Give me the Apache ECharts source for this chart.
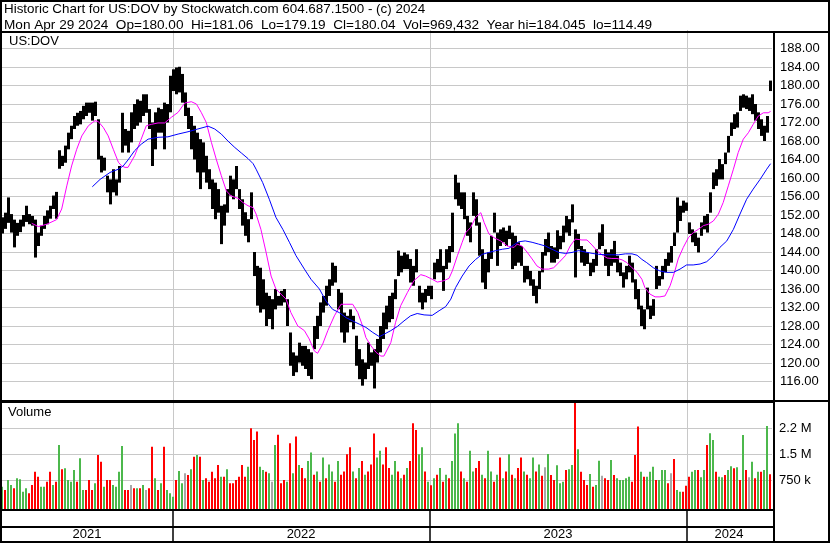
<!DOCTYPE html>
<html><head><meta charset="utf-8">
<script src="https://cdn.jsdelivr.net/npm/echarts@6/dist/echarts.min.js"></script>
<style>html,body{margin:0;padding:0;background:#fff}#c{width:830px;height:543px}</style>
</head><body><div id="c"></div>
<script>
const titleLine1 = 'Historic Chart for US:DOV by Stockwatch.com 604.687.1500 - (c) 2024';
const titleLine2 = 'Mon Apr 29 2024  Op=180.00  Hi=181.06  Lo=179.19  Cl=180.04  Vol=969,432  Year hi=184.045  lo=114.49';
const symbolLabel = 'US:DOV';
const volumeLabel = 'Volume';

// price bars (each bar = ~3 trading days), high / low
const highs = [151.5,152.5,155.8,152.2,151,150.3,151,152,154,152.2,151.8,151,148.2,149.7,151.8,153,154,156.2,157,166,164.8,167,169.8,171.3,173.4,174.1,174.5,175.6,176.3,176.3,176.3,176.5,172.7,164.8,164.4,160.5,159.7,161.9,159.7,162.6,174.1,170.6,170.2,
174.2,176,177,176.7,178.1,178.1,174.9,172,174.2,175.2,174.9,176.3,176,182.1,183.5,183.9,184.05,182.5,178.5,175.2,173.4,171.3,169.8,168.4,167.7,164.8,161.9,159.7,159,157.6,154,154.3,157.6,160.5,159.7,162.6,157.6,155.4,152.6,151.1,156.9,144,141,
140.6,138.1,135.2,134.5,133.8,136,134.5,135.6,136,133.8,126.6,122.3,121.6,124.4,123.7,123.7,123,122.3,128,130.2,133.1,134.5,136.7,138.1,141.7,141,136,135.2,130.9,130.2,131.6,130.2,125.9,123,120.8,120.1,124.4,122.3,123,125.2,128,130.9,
132.4,134.5,135.2,138.1,144.3,143.2,143.9,143.5,142.5,141,144.6,136.7,135.2,136,136.7,136.7,141.7,142.5,144.6,141,144.6,145.3,152.5,160.7,159,156.9,156.9,151.8,150.4,156.9,155.4,150.4,144.6,142.5,143.9,147.5,152.5,148.2,148.9,149.3,148.6,149.7,148.2,
147.5,146.1,145.3,141,141,139.9,138.1,136.7,139.9,144,146.8,148.2,145.3,145,148.7,147.5,149.7,151.8,151.1,154.3,148.9,147.9,145.3,144.6,143.9,141.7,142.5,144.6,148.2,150,144.6,143.9,144.6,146.4,143.2,141.7,139.6,141,143.2,141.7,138.1,136,132.4,
131.6,136.3,132.4,133.8,141,138.8,141,142.5,143.9,145.3,148.2,155.8,154,155.1,154.7,150.4,148.9,148.2,147.1,150.4,151.8,152.2,156.9,161.2,161.9,164.1,163,165.5,169.1,172,173.8,174.2,177.8,178.1,177.8,177.4,178.1,176,174.2,172.7,171.3,173.4,181.06];
const lows = [148,149,150.3,148.2,145,147.5,148.3,149.5,150.5,150,149.7,142.8,145.3,147.5,149,150,151.2,153.3,151.2,162,162.6,163.3,166.2,168.4,170.6,171.3,171.6,172.7,173.4,174.1,172.4,173.4,164,161.2,161.6,156.9,154.3,156.9,156.2,159,165.5,167,165.5,
167.7,170.6,171.3,172,173.4,174.1,170.6,162.6,166.2,169.8,169.8,166.2,172,174.2,178.8,178.1,178.5,176.3,173.4,170.6,166.2,164,161.2,157.6,161.2,159,157.6,153.3,151.1,152.5,145.7,149.7,152.5,156.2,155.4,157.6,153.3,149.7,147.5,146.1,151.1,138.8,132.4,
130.9,131.6,128,129.5,127.3,131.6,132.4,132.4,133.1,128,119.4,117.2,118,120.1,119.4,118.7,117.2,116.5,123,125.2,128,130.9,132.4,134.5,136.7,137.4,131.6,126.6,124.4,126.6,128.8,127.3,119.4,116.5,115.1,116.5,118.7,119.4,114.49,120.1,122.3,125.2,
127.3,128.8,129.5,133.8,138.8,139.6,140.3,140.3,137.4,136.7,139.6,133.1,131.6,133.1,134.5,133.8,138.1,139.6,139.6,135.6,140.3,141.7,144,155.4,154,153.3,151.1,147.5,146.1,151.8,149.7,143.2,137.4,136,139.6,142.5,148.2,141,145.3,146.1,145.3,146.8,140.3,
141,141.7,141,137.4,138.1,136.7,134.5,132.9,136,139.6,143.2,144,141.7,141.7,142.5,144.6,146.1,148.2,147.5,150.4,138.5,144.6,141.7,141,141.4,138.8,139.6,141,144.6,145.3,141,138.8,141,141.7,139.6,138.8,136.3,138.1,139.6,137.4,133.8,131.6,128,
127.3,131.6,129.5,130.2,136,136.7,138.1,139.6,141,141.7,145.3,148.2,150.7,152.5,152.9,147.9,146.1,145.3,143.9,147.5,148.9,148.2,152.5,157.6,158.3,159.7,159.7,163,165.5,169.1,170.6,170.9,174.5,175.2,174.9,174.5,173.8,172.4,170.6,169.1,168,169.8,178.8];

// volume per bar, thousands of shares; G = up, R = down, N = unchanged
const volumes = [556,459,750,605,508,798,770,410,508,363,605,992,847,556,556,702,992,605,702,1767,1060,1090,750,702,1040,702,1380,459,459,750,459,653,1477,1282,556,750,750,605,556,992,1740,459,459,605,508,508,508,605,459,508,1718,798,459,653,1718,459,363,265,750,1012,653,944,895,1060,1428,1477,1428,750,798,702,992,798,1186,847,847,1060,653,653,750,847,1186,847,1137,2250,1912,2154,1137,1040,992,944,702,1767,2060,653,750,702,1817,944,2009,1186,
1100,800,1300,1550,900,1000,700,1400,800,1200,1000,700,1300,900,1000,1500,1700,1000,800,1100,1300,900,1000,1200,2100,1400,1600,1200,1700,1100,900,1300,1000,800,900,1100,1300,2400,2200,1500,1700,1000,700,600,800,900,1100,700,900,800,1300,2100,2400,1000,800,700,1600,1000,1100,1300,900,800,1600,1000,700,900,1400,800,1000,1500,900,800,1100,1400,1000,900,800,1400,1000,1200,
870,1120,1506,895,750,1175,653,702,1040,1060,1186,3000,1640,992,750,605,925,556,605,1310,870,798,750,1330,895,798,750,750,798,847,702,1477,2300,992,847,847,992,1137,750,750,1040,1040,653,944,1360,459,410,410,580,847,992,1040,1040,830,1040,1767,2107,1912,992,847,830,895,1040,1150,1090,1120,750,2058,1040,830,1282,798,992,992,1040,2320,920];
const volDirs = 'GRGGRGGGGRRRRGGRRGRGRGGGGRGGRRRGRRGRRGGGGRRNRGRGNRRGRGRGGGRGGNRGRGRGRRRRRGRGRRRRRRGRRRGGRGNGRRRGRGRG' +
  'RRGGRGRGRGGRGRRRRGRGRGRRRGGRRRGGRGRGRRRGGRGRGRGRGRGGGRGRGGRRGRGGRGRGRGRGRRGRGGRG' +
  'RNGRRGGGRGGRGRRRGRGGNRRGRGGGGGRRRGRGGGRGGGRNRGGRRRGGRGGRGGRGGRGGRGRGRNGRGRGGR';

// moving averages, [bar index, value]
const fastMA = [[9.9,150.2],[12.1,149.5],[14.9,150],[18.2,151],[19.9,153.3],[21.6,158.3],[23.2,162.6],[24.9,166.2],[26.6,169.1],[28.8,171.3],[31,172.4],[32.1,172.2],[33.8,170.9],[35.4,169.1],[37.1,166.2],[38.8,163.4],[39.9,162.6],[41,162.3],[42,162.3],[44.2,164.8],[46.4,168.4],[48.1,171.3],[49.8,171.6],[52,171.9],[54.2,171.9],[56.4,173.1],[58.7,174.2],[60.9,176.2],[63.1,176.5],[64.8,176],[66.4,174.2],[68.1,172],[69.8,167.7],[71.4,164.1],[73.1,160.5],[74.8,157.2],[76.4,156.1],[78.7,155.6],[80.3,154.7],[82,154],[83.7,153.6],[84.7,152.2],[86.3,148.9],[88,144],[89.7,138.8],[91.3,136],[93,134.9],[94.7,133.8],[96.3,130.9],[98.6,128],[100.8,127],[102.4,125.2],[104.1,122.6],[105.2,122.1],[106.9,124.1],[108.6,127],[110.8,130.2],[113,132.7],[114.7,132.7],[116.9,132.7],[118.6,130.9],[120.2,128],[121.3,125.5],[123,123.7],[124.7,122.3],[126.3,121.5],[127.3,121.5],[129.6,124.4],[131.2,128.8],[132.9,132.4],[135.1,135.2],[137.3,137.8],[139.6,139.1],[141.2,138.8],[143.4,138.1],[145.1,137.5],[147.3,137.8],[149,138.3],[150.1,139.9],[151.8,143.2],[153.4,146.1],[154.6,148.2],[156.2,149.3],[157.9,151.5],[159.6,152.5],[160.7,150.4],[162.3,147.9],[164,147.1],[166.2,146.4],[168.4,145.3],[170.7,145],[171.7,145.7],[173.3,145.3],[175,144],[176.7,142.5],[178.3,141],[180,140.3],[182.2,140.3],[183.9,140.6],[185.6,141.7],[187.8,143.2],[189.4,145.3],[191.1,146.8],[193.3,146.6],[195,146.6],[196.7,145.5],[198.3,144.3],[200,143.4],[201.7,142.7],[203.3,142.6],[205,142.6],[206.7,142.3],[208.3,141.7],[210,140.6],[211.7,139.6],[213.3,138.1],[214.3,136.3],[216,134.9],[217.7,134.3],[219.3,134.3],[221,134.5],[222.7,136.7],[224.3,139.9],[225.4,142.5],[227.1,145],[228.8,147.1],[230.4,148.2],[232.1,148.9],[233.8,149.7],[235.4,150],[237.1,150.7],[238.8,152.2],[240.4,154.7],[242.1,158.3],[243.8,161.9],[245.4,165.5],[247.1,168.4],[248.8,169.8],[250.4,171.6],[252.1,173.4],[253.8,174.1],[255.4,174.1],[256.2,174.4]];
const slowMA = [[30.1,158.1],[32.7,159.7],[36,161.2],[38.8,161.9],[40.4,162.6],[42,163.9],[44.2,165.9],[46.4,167.3],[48.7,168.4],[52,168.8],[55.3,168.9],[58.7,169.5],[62,170],[65.3,170.6],[68.7,171.2],[70.9,170.6],[73.1,169.5],[75.3,168],[77.6,166.6],[79.8,165.4],[82,164.2],[83.7,163.1],[84.7,161.9],[86.9,159],[89.1,155.4],[91.3,151.5],[93.6,148.9],[95.8,146.1],[98,143.2],[100.8,140.3],[103,138.1],[105.8,136],[108,133.4],[110.2,131.6],[112.4,130.9],[114.7,129.8],[116.9,129.1],[119.1,128.4],[121.3,127.7],[123.6,126.6],[125.8,125.7],[127.3,126.2],[129.6,127],[131.8,127.9],[134,129.1],[136.2,130.2],[138.4,130.7],[140.7,130.4],[143.4,130.3],[145.7,131.3],[147.9,132.2],[149.6,133.8],[151.2,136.3],[153.4,138.8],[155.7,141],[157.9,142.4],[160.1,143.5],[162.3,143.9],[164.6,144.3],[166.8,144.6],[169,144.8],[170,145.3],[172.2,146.2],[174.4,146.4],[176.7,146.1],[178.9,145.7],[181.1,145.3],[183.3,144.6],[185.6,143.9],[187.8,143.7],[190,143.9],[192.2,144.3],[194.4,144],[196.7,143.7],[198.9,143.5],[201.1,143.4],[203.3,143.4],[205.6,143.4],[207.8,143.6],[210,143.6],[211.7,143.3],[213.3,142.4],[214.9,141.7],[217.1,140.6],[219.3,139.9],[221.6,139.6],[223.8,139.6],[226,140.3],[228.2,141.2],[230.4,141.2],[232.7,141.4],[234.9,141.9],[237.1,143.2],[239.3,145],[241.6,146.4],[243.8,148.9],[246,152.2],[248.2,155.4],[250.4,157.6],[252.7,159.7],[254.9,161.9],[256.2,163.1]];

const years = ['2021','2022','2023','2024'];
const yearCenters = [28.3, 99.7, 185.3, 242.3];
const yearBoundaries = [57, 142.7, 228.3];
const volTicks = [750, 1500, 2250];
const volTickLabels = ['750 k','1.5 M','2.2 M'];

const FONT = '"Liberation Sans", Arial, sans-serif';
const GRID_GRAY = '#c8c8c8';
const dirColor = {G:'#4cb84c', R:'#ff0000', N:'#a8a8a8'};

const chart = echarts.init(document.getElementById('c'), null, {renderer:'canvas'});
const xRange = {min: -0.667, max: 256.667};
const xAxisBase = Object.assign({type:'value', show:false, splitLine:{show:false}}, xRange);

const option = {
  animation:false,
  backgroundColor:'#fff',
  grid:[
    {left:0, top:30, width:772, height:370, outerBoundsMode:'none'},
    {left:0, top:402, width:772, height:107, outerBoundsMode:'none'},
    {left:0, top:510, width:772, height:31, outerBoundsMode:'none'}
  ],
  xAxis:[
    Object.assign({gridIndex:0}, xAxisBase),
    Object.assign({gridIndex:1}, xAxisBase),
    Object.assign({gridIndex:2}, xAxisBase)
  ],
  yAxis:[
    {gridIndex:0, type:'value', position:'right', min:112, max:192, interval:4,
     axisLine:{show:false}, axisTick:{show:false},
     axisLabel:{showMinLabel:false, showMaxLabel:false, margin:8, color:'#000', fontSize:13, fontFamily:FONT,
       formatter:v=>v.toFixed(2)},
     splitLine:{show:true, showMinLine:false, showMaxLine:false, lineStyle:{color:GRID_GRAY, width:1}}},
    {gridIndex:1, type:'value', min:-91, max:3013, show:false, splitLine:{show:false}},
    {gridIndex:2, type:'value', min:0, max:1, show:false, splitLine:{show:false}}
  ],
  series:[
    {
      type:'custom', xAxisIndex:0, yAxisIndex:0, z:3, clip:true,
      data: highs.map((h,i)=>[i,h,lows[i]]),
      encode:{x:0, y:[1,2]},
      renderItem:(params, api)=>{
        const t = api.coord([api.value(0), api.value(1)]);
        const b = api.coord([api.value(0), api.value(2)]);
        return {type:'rect', shape:{x:Math.round(t[0])-1, y:t[1], width:3, height:Math.max(1,b[1]-t[1])}, style:{fill:'#000'}};
      },
      markLine:{silent:true, z:1, symbol:'none', animation:false, label:{show:false},
        lineStyle:{color:GRID_GRAY, width:1, type:'solid'},
        data: yearBoundaries.map(v=>({xAxis:v}))}
    },
    {type:'line', xAxisIndex:0, yAxisIndex:0, z:4, data:fastMA, showSymbol:false, symbol:'none',
     lineStyle:{color:'#ff00ff', width:1}},
    {type:'line', xAxisIndex:0, yAxisIndex:0, z:4, data:slowMA, showSymbol:false, symbol:'none',
     lineStyle:{color:'#0000ff', width:1}},
    {
      type:'custom', xAxisIndex:1, yAxisIndex:1, z:3,
      data: volumes.map((v,i)=>[i,v]),
      encode:{x:0, y:1},
      renderItem:(params, api)=>{
        const p = api.coord([api.value(0), api.value(1)]);
        const bottom = params.coordSys.y + params.coordSys.height;
        return {type:'rect', shape:{x:Math.round(p[0])-1, y:p[1], width:2, height:bottom-p[1]},
          style:{fill:dirColor[volDirs[params.dataIndex]]}};
      },
      markLine:{silent:true, z:1, symbol:'none', animation:false,
        lineStyle:{color:GRID_GRAY, width:1, type:'solid'},
        data: yearBoundaries.map(v=>({xAxis:v, label:{show:false}})).concat(
          volTicks.map((v,i)=>({yAxis:v, label:{show:true, position:'end', distance:7, formatter:volTickLabels[i],
            color:'#000', fontSize:13, fontFamily:FONT}})))}
    },
    {
      type:'custom', xAxisIndex:2, yAxisIndex:2, z:3,
      data: yearCenters.map((c)=>[c,0]),
      encode:{x:0, y:1},
      renderItem:(params, api)=>{
        const p = api.coord([api.value(0), 0]);
        return {type:'text', x:p[0], y:params.coordSys.y + params.coordSys.height - 7,
          style:{text:years[params.dataIndex], align:'center', verticalAlign:'middle', font:'13px ' + FONT, fill:'#000'}};
      },
      markLine:{silent:true, z:1, symbol:'none', animation:false, label:{show:false},
        lineStyle:{color:'#000', width:1.5, type:'solid'},
        data: yearBoundaries.map(v=>({xAxis:v}))}
    }
  ],
  graphic:[
    {type:'text', left:4, top:3, z:10, style:{text:titleLine1, font:'13.4px ' + FONT, fill:'#000'}},
    {type:'text', left:4, top:18, z:10, style:{text:titleLine2, font:'13.6px ' + FONT, fill:'#000'}},
    {type:'text', left:9, top:35, z:10, style:{text:symbolLabel, font:'13px ' + FONT, fill:'#000'}},
    {type:'text', left:8, top:406, z:10, style:{text:volumeLabel, font:'13px ' + FONT, fill:'#000'}},
    {type:'rect', z:20, shape:{x:1, y:1, width:828, height:541}, style:{fill:'none', stroke:'#000', lineWidth:2}},
    {type:'line', z:20, shape:{x1:0, y1:32, x2:830, y2:32}, style:{stroke:'#000', lineWidth:2}},
    {type:'line', z:20, shape:{x1:774, y1:31, x2:774, y2:543}, style:{stroke:'#000', lineWidth:2}},
    {type:'line', z:20, shape:{x1:0, y1:401, x2:830, y2:401}, style:{stroke:'#000', lineWidth:2}},
    {type:'line', z:20, shape:{x1:0, y1:402.5, x2:774, y2:402.5}, style:{stroke:'#000', lineWidth:1}},
    {type:'line', z:20, shape:{x1:0, y1:510, x2:774, y2:510}, style:{stroke:'#000', lineWidth:2}},
    {type:'line', z:20, shape:{x1:0, y1:527, x2:774, y2:527}, style:{stroke:'#000', lineWidth:2}}
  ]
};
chart.setOption(option);
</script>
</body></html>
